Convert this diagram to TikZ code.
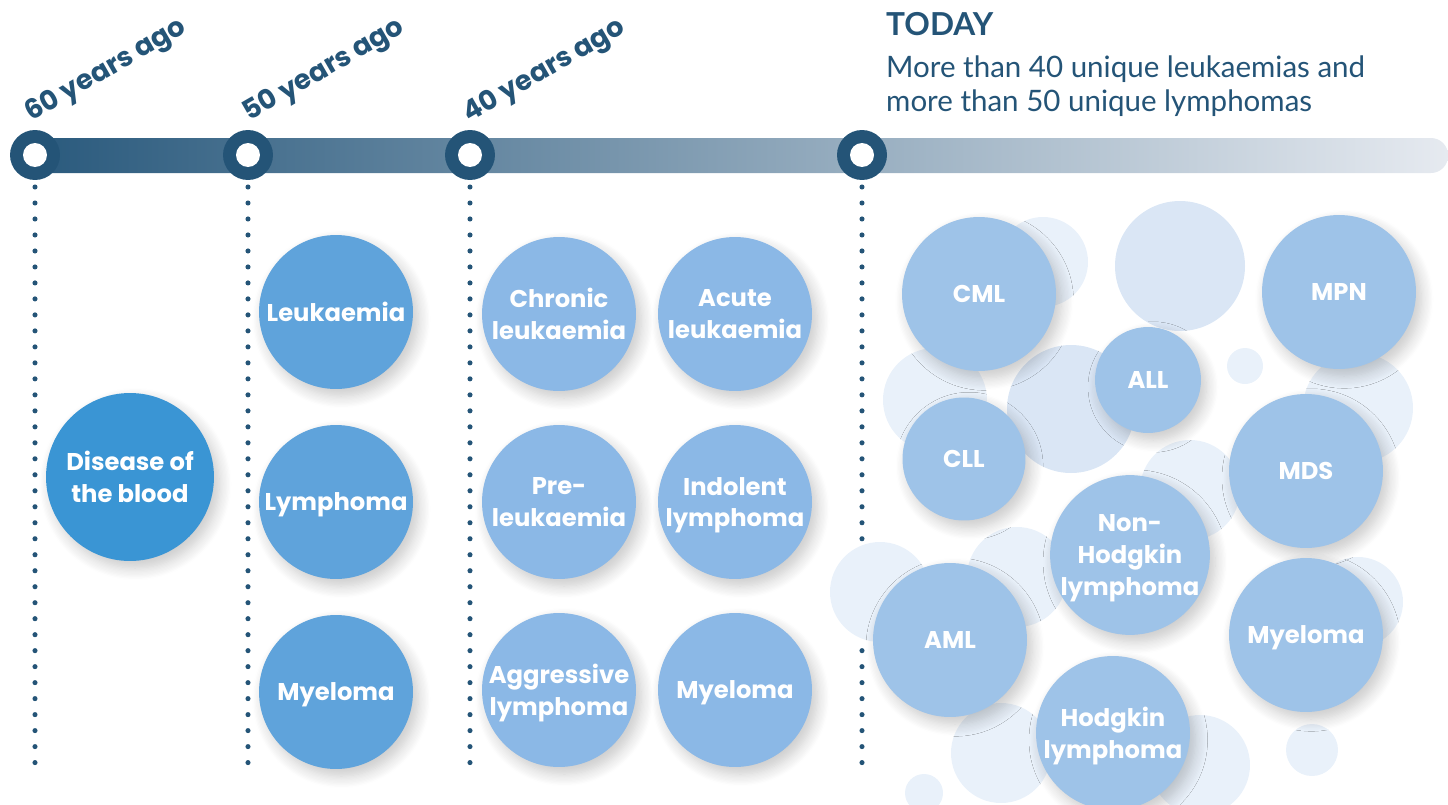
\documentclass[tikz,border=0pt]{standalone}
\usepackage{fontspec}
\setmainfont{Poppins}
\newfontfamily\bodyfont{Lato}
\usetikzlibrary{shadows.blur}

\definecolor{navy}{HTML}{245477}
\definecolor{barleft}{HTML}{2A5A7D}
\definecolor{barright}{HTML}{E6EAF0}
\definecolor{blueone}{HTML}{3A95D4}
\definecolor{bluetwo}{HTML}{5FA3DB}
\definecolor{bluethree}{HTML}{8BB8E6}
\definecolor{bluetoday}{HTML}{9EC3E8}
\definecolor{paleA}{HTML}{DAE6F5}
\definecolor{paleB}{HTML}{E9F1FA}

\tikzset{
	bubble/.style={circle, minimum size=3.08cm, inner sep=0pt, align=center, text=white, text depth=0pt,
		font=\fontsize{13.8}{18}\selectfont\bfseries,
		blur shadow={shadow xshift=3pt, shadow yshift=-4pt, shadow blur radius=7pt, shadow blur steps=10, shadow opacity=22}},
	marker/.style={circle, fill=navy, minimum size=1cm, inner sep=0pt},
	hole/.style={circle, fill=white, minimum size=0.48cm, inner sep=0pt},
	agolabel/.style={rotate=30, anchor=base west, inner sep=0pt, text=navy, font=\fontsize{15.5}{18}\selectfont\bfseries},
	dotline/.style={navy, line width=2.9pt, line cap=round, dash pattern=on 0pt off 9.1pt}
}

\begin{document}
\begin{tikzpicture}[x=0.02cm, y=-0.02cm]
	\useasboundingbox (0,0) rectangle (1448,805);
	% timeline bar
	\shade[left color=barleft, right color=barright, rounded corners=0.34cm] (35,138) rectangle (1448,173);
	\node (m60) at (35,155) [marker] {};	\node at (m60) [hole] {};
	\node (m50) at (248,155) [marker] {};	\node at (m50) [hole] {};
	\node (m40) at (470,155) [marker] {};	\node at (m40) [hole] {};
	\node (mnow) at (862,155) [marker] {};	\node at (mnow) [hole] {};
	\node (l60) at (31,122) [agolabel] {60 years ago};
	\node (l50) at (249,122) [agolabel] {50 years ago};
	\node (l40) at (469,123) [agolabel] {40 years ago};
	\node (today) at (880,24) [anchor=west, text=navy, font=\bodyfont\fontsize{18}{20}\selectfont\bfseries] {TODAY};
	\node (summary) at (880,86) [anchor=west, align=left, text=navy, font=\bodyfont\fontsize{16.8}{19.6}\selectfont]
		{More than 40 unique leukaemias and\\more than 50 unique lymphomas};
	% dotted lines
	\coordinate (t60) at (35,187);		\coordinate (e60) at (35,765);
	\coordinate (t50) at (248,187);		\coordinate (e50) at (248,765);
	\coordinate (t40) at (470,187);		\coordinate (e40) at (470,765);
	\coordinate (tnow) at (862,187);	\coordinate (enow) at (862,765);
	\draw[dotline] (t60) -- (e60);
	\draw[dotline] (t50) -- (e50);
	\draw[dotline] (t40) -- (e40);
	\draw[dotline] (tnow) -- (enow);
	% 60 years ago
	\node (blood) at (130,477) [bubble, fill=blueone, minimum size=3.36cm] {Disease of\\the blood};
	% 50 years ago
	\node (leuk) at (336,312) [bubble, fill=bluetwo] {Leukaemia};
	\node (lymph) at (336,502) [bubble, fill=bluetwo] {Lymphoma};
	\node (myel) at (336,692) [bubble, fill=bluetwo] {Myeloma};
	% 40 years ago
	\node (chron) at (559,314) [bubble, fill=bluethree] {Chronic\\leukaemia};
	\node (acute) at (735,314) [bubble, fill=bluethree] {Acute\\leukaemia};
	\node (pre) at (559,502) [bubble, fill=bluethree] {Pre-\\leukaemia};
	\node (indol) at (735,502) [bubble, fill=bluethree] {Indolent\\lymphoma};
	\node (aggr) at (559,690) [bubble, fill=bluethree] {Aggressive\\lymphoma};
	\node (myelb) at (735,690) [bubble, fill=bluethree] {Myeloma};
	% today
	\foreach \cx/\cy/\r/\c in {1043/262/45/paleB, 1180/266/65/paleA, 935/400/52/paleB,
		1071/409/64/paleA, 1245/366/18/paleB, 1358/408/55/paleB, 1190/490/50/paleB,
		880/592/50/paleB, 1017/577/50/paleB, 1358/602/45/paleB, 1001/753/50/paleB,
		924/793/19/paleB, 1200/765/50/paleB, 1312/750/26/paleB}
		\fill[\c] (\cx,\cy) circle[radius=\r];
	\node (cml) at (979,294) [bubble, fill=bluetoday] {CML};
	\node (mpn) at (1339,292) [bubble, fill=bluetoday] {MPN};
	\node (all) at (1148,380) [bubble, fill=bluetoday, minimum size=2.12cm] {ALL};
	\node (cll) at (964,459) [bubble, fill=bluetoday, minimum size=2.46cm] {CLL};
	\node (mds) at (1306,471) [bubble, fill=bluetoday] {MDS};
	\node (nhl) at (1130,555) [bubble, fill=bluetoday] {Non-\\Hodgkin\\lymphoma};
	\node (aml) at (950,640) [bubble, fill=bluetoday] {AML};
	\node (myelc) at (1306,635) [bubble, fill=bluetoday] {Myeloma};
	\node (hl) at (1113,733) [bubble, fill=bluetoday] {Hodgkin\\lymphoma};
\end{tikzpicture}
\end{document}
